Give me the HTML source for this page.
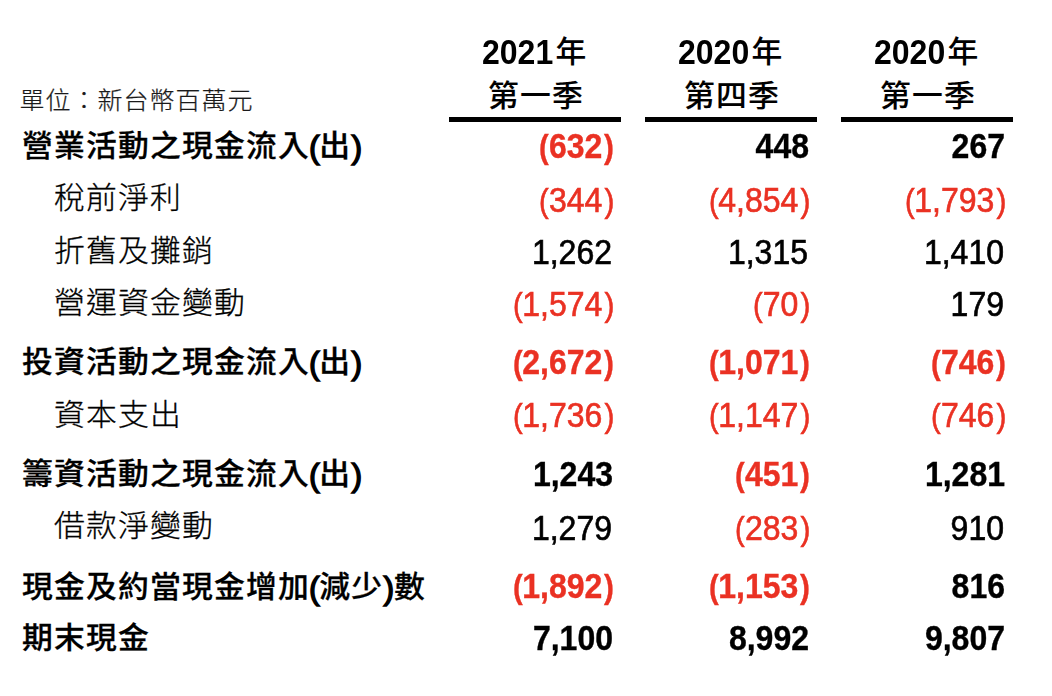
<!DOCTYPE html>
<html lang="zh-Hant">
<head>
<meta charset="utf-8">
<title>現金流量表</title>
<style>
html,body{margin:0;padding:0;background:#fff;}
body{width:1052px;height:696px;position:relative;overflow:hidden;
  font-family:"Liberation Sans","Noto Sans CJK TC",sans-serif;color:#000;
  -webkit-font-smoothing:antialiased;}
.v,.h b{will-change:transform;}
.t{position:absolute;white-space:nowrap;line-height:40px;height:40px;}
.cj{display:inline-block;transform:scaleY(0.95);transform-origin:50% 46.75%;}
.ls .cj{transform:scaleY(0.965);}
.h .cj,.unit .cj{transform-origin:50% 62%;}
.h .cj{transform:scaleY(0.955);}
.h .yr{transform:translateY(-1px) scaleY(0.97);}
.h b{display:inline-block;transform:scaleY(1.08);transform-origin:0 31.09px;position:relative;top:1px;margin-right:2px;}
.h2{margin-left:1px;}
b{font-weight:700;font-size:32px;letter-spacing:0;-webkit-text-stroke:0;}
.unit{left:19.5px;top:80px;font-size:25px;letter-spacing:1px;font-weight:300;color:#1a1a1a;-webkit-text-stroke:0.25px #1a1a1a;}
.unit .cj{transform:scaleY(0.955);}
.h{width:172px;text-align:center;font-weight:500;font-size:30.8px;letter-spacing:1.2px;-webkit-text-stroke:0.1px #000;}
.c1{left:449px;} .c2{left:645px;} .c3{left:841px;}
.ul{position:absolute;top:117px;height:5px;width:172px;background:#000;}
.lb{left:22px;font-size:30.8px;letter-spacing:1.2px;font-weight:500;-webkit-text-stroke:0.28px #000;}
.ls{left:54px;font-size:30.8px;letter-spacing:1.2px;font-weight:300;-webkit-text-stroke:0.3px #000;}
.v{width:172px;text-align:right;font-size:32px;transform:scaleY(1.08);transform-origin:0 31.09px;}
.v.c1{left:442px;} .v.c2{left:638px;} .v.c3{left:834px;}
.p{margin-left:-1.7px;}
.b.p{margin-left:-1.1px;}
i{font-style:normal;display:inline-block;transform:scale(0.91,0.955);transform-origin:98% 70%;}
i.q{margin-left:1.05px;transform:translateX(0.8px) scale(0.93,0.955);transform-origin:81% 70%;}
.b i.q{transform:translateX(0.3px) scale(0.93,0.955);}
.v{-webkit-text-stroke:0.6px;}
.b{font-weight:700;-webkit-text-stroke:0.35px;}
.lb b{position:relative;top:1.4px;margin-left:-1px;margin-right:-0.4px;font-weight:400;-webkit-text-stroke:1.4px #000;}
.lb b.q{margin-left:0.3px;margin-right:-0.3px;}
.r{color:#ea3123;}
</style>
</head>
<body>
<div class="t unit"><span class="cj">單位：新台幣百萬元</span></div>
<div class="t h c1" style="top:32px"><b>2021</b><span class="cj yr">年</span></div>
<div class="t h h2 c1" style="top:76px"><span class="cj">第一季</span></div>
<div class="t h c2" style="top:32px"><b>2020</b><span class="cj yr">年</span></div>
<div class="t h h2 c2" style="top:76px"><span class="cj">第四季</span></div>
<div class="t h c3" style="top:32px"><b>2020</b><span class="cj yr">年</span></div>
<div class="t h h2 c3" style="top:76px"><span class="cj">第一季</span></div>
<div class="ul c1"></div><div class="ul c2"></div><div class="ul c3"></div>

<div class="t lb" style="top:126px"><span class="cj">營業活動之現金流入</span><b>(</b><span class="cj">出</span><b class="q">)</b></div>
<div class="t v b r c1" style="top:127px"><i>(</i>632<i class="q">)</i></div>
<div class="t v b p c2" style="top:127px">448</div>
<div class="t v b p c3" style="top:127px">267</div>

<div class="t ls" style="top:178px"><span class="cj">稅前淨利</span></div>
<div class="t v r c1" style="top:181px"><i>(</i>344<i class="q">)</i></div>
<div class="t v r c2" style="top:181px"><i>(</i>4,854<i class="q">)</i></div>
<div class="t v r c3" style="top:181px"><i>(</i>1,793<i class="q">)</i></div>

<div class="t ls" style="top:231px"><span class="cj">折舊及攤銷</span></div>
<div class="t v p c1" style="top:233px">1,262</div>
<div class="t v p c2" style="top:233px">1,315</div>
<div class="t v p c3" style="top:233px">1,410</div>

<div class="t ls" style="top:283px"><span class="cj">營運資金變動</span></div>
<div class="t v r c1" style="top:285px"><i>(</i>1,574<i class="q">)</i></div>
<div class="t v r c2" style="top:285px"><i>(</i>70<i class="q">)</i></div>
<div class="t v p c3" style="top:285px">179</div>

<div class="t lb" style="top:342px"><span class="cj">投資活動之現金流入</span><b>(</b><span class="cj">出</span><b class="q">)</b></div>
<div class="t v b r c1" style="top:343px"><i>(</i>2,672<i class="q">)</i></div>
<div class="t v b r c2" style="top:343px"><i>(</i>1,071<i class="q">)</i></div>
<div class="t v b r c3" style="top:343px"><i>(</i>746<i class="q">)</i></div>

<div class="t ls" style="top:395px"><span class="cj">資本支出</span></div>
<div class="t v r c1" style="top:396px"><i>(</i>1,736<i class="q">)</i></div>
<div class="t v r c2" style="top:396px"><i>(</i>1,147<i class="q">)</i></div>
<div class="t v r c3" style="top:396px"><i>(</i>746<i class="q">)</i></div>

<div class="t lb" style="top:454px"><span class="cj">籌資活動之現金流入</span><b>(</b><span class="cj">出</span><b class="q">)</b></div>
<div class="t v b p c1" style="top:455px">1,243</div>
<div class="t v b r c2" style="top:455px"><i>(</i>451<i class="q">)</i></div>
<div class="t v b p c3" style="top:455px">1,281</div>

<div class="t ls" style="top:506px"><span class="cj">借款淨變動</span></div>
<div class="t v p c1" style="top:509px">1,279</div>
<div class="t v r c2" style="top:509px"><i>(</i>283<i class="q">)</i></div>
<div class="t v p c3" style="top:509px">910</div>

<div class="t lb" style="top:567px"><span class="cj">現金及約當現金增加</span><b>(</b><span class="cj">減少</span><b class="q">)</b><span class="cj">數</span></div>
<div class="t v b r c1" style="top:567px"><i>(</i>1,892<i class="q">)</i></div>
<div class="t v b r c2" style="top:567px"><i>(</i>1,153<i class="q">)</i></div>
<div class="t v b p c3" style="top:567px">816</div>

<div class="t lb" style="top:619px"><span class="cj">期末現金</span></div>
<div class="t v b p c1" style="top:619px">7,100</div>
<div class="t v b p c2" style="top:619px">8,992</div>
<div class="t v b p c3" style="top:619px">9,807</div>
</body>
</html>
